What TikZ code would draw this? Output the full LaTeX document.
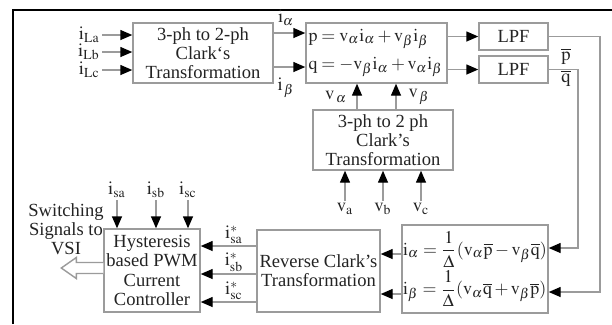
\documentclass[tikz,border=0pt]{standalone}
\usepackage{mathptmx}
\usepackage{fontspec}
\setmainfont{Liberation Serif}
\usepackage{tikz}
\usetikzlibrary{arrows.meta,positioning,calc}
\definecolor{blk_gray}{RGB}{155,155,155}
\definecolor{txt_dark}{RGB}{35,35,35}

\begin{document}
\begin{tikzpicture}[x=0.5bp, y=-0.5bp, font=\fontsize{9.3}{9.6}\selectfont, text=txt_dark,
    blk/.style={draw=blk_gray, line width=0.7bp, align=center, inner sep=0pt},
    sig/.style={draw=blk_gray, line width=0.7bp, -{Triangle[length=6bp,width=5bp,black]}},
    lbl/.style={inner sep=1bp}]
        \useasboundingbox (0,0) rectangle (612,324);
        % outer frame
        \draw[line width=1bp] (13,324) -- (13,10) -- (612,10);

        % blocks
        \node[blk, minimum width=70bp, minimum height=30bp] (clarkA) at (203,53)
          {3-ph to 2-ph\\Clark`s\\Transformation};
        \node[blk, minimum width=70.5bp, minimum height=30bp, align=left, text width=68bp,
              font=\fontsize{9}{9.5}\selectfont] (pq) at (376.5,53)
          {$\mathrm{p = v_\alpha i_\alpha + v_\beta i_\beta}$\\[3.5bp]
           $\mathrm{q = -v_\beta i_\alpha + v_\alpha i_\beta}$};
        \node[blk, minimum width=34.5bp, minimum height=13.5bp] (lpfA) at (513.5,36.5) {LPF};
        \node[blk, minimum width=34.5bp, minimum height=13.5bp] (lpfB) at (513.5,69.5) {LPF};
        \node[blk, minimum width=70bp, minimum height=30bp] (clarkB) at (383,140)
          {3-ph to 2 ph\\Clark's\\Transformation};
        \node[blk, minimum width=73bp, minimum height=44bp, align=left,
              font=\fontsize{9}{9.5}\selectfont] (inv) at (475,269)
          {$\mathrm{i_\alpha = \displaystyle\frac{1}{\Delta}(v_\alpha\overline{p} - v_\beta\overline{q})}$\\[0.5bp]
           $\mathrm{i_\beta = \displaystyle\frac{1}{\Delta}(v_\alpha\overline{q} + v_\beta\overline{p})}$};
        \node[blk, minimum width=61.5bp, minimum height=41bp] (rev) at (318.5,271)
          {Reverse Clark's\\Transformation};
        \node[blk, minimum width=48bp, minimum height=41.5bp] (hyst) at (152,270.5)
          {Hysteresis\\based PWM\\Current\\Controller};
        \node[lbl, align=center] (vsi) at (66,229) {Switching\\Signals to\\VSI};

        % load currents
        \coordinate (iLa) at (102,35);
        \coordinate (iLb) at (102,52);
        \coordinate (iLc) at (102,70);
        \node[lbl, anchor=east] (iLaL) at (iLa) {$\mathrm{i_{La}}$};
        \node[lbl, anchor=east] (iLbL) at (iLb) {$\mathrm{i_{Lb}}$};
        \node[lbl, anchor=east] (iLcL) at (iLc) {$\mathrm{i_{Lc}}$};
        \draw[sig] (iLa) -- (iLa -| clarkA.west);
        \draw[sig] (iLb) -- (iLb -| clarkA.west);
        \draw[sig] (iLc) -- (iLc -| clarkA.west);

        % alpha-beta currents
        \draw[sig] ([yshift=10bp]clarkA.east) -- ([yshift=10bp]clarkA.east -| pq.west);
        \draw[sig] ([yshift=-7bp]clarkA.east) -- ([yshift=-7bp]clarkA.east -| pq.west);
        \node[lbl] (ialL) at (286,18) {$\mathrm{i}_{\alpha}$};
        \node[lbl] (ibeL) at (286,88) {$\mathrm{i}_{\,\beta}$};

        % p and q to filters
        \draw[sig] (pq.east |- lpfA) -- (lpfA);
        \draw[sig] (pq.east |- lpfB) -- (lpfB);

        % filtered p and q back to the current references
        \coordinate (pline) at (600,0);
        \coordinate (qline) at (578,0);
        \draw[sig] (lpfA.east) -- (lpfA.east -| pline) |- ([yshift=-11.5bp]inv.east);
        \draw[sig] (lpfB.east) -- (lpfB.east -| qline) |- ([yshift=10.5bp]inv.east);
        \node[lbl] (pbarL) at (566,56) {$\overline{\mathrm{p}}$};
        \node[lbl] (qbarL) at (566,78) {$\overline{\mathrm{q}}$};

        % alpha-beta voltages
        \draw[sig] ([xshift=-13bp]clarkB.north) -- ([xshift=-13bp]clarkB.north |- pq.south);
        \draw[sig] ([xshift=6.5bp]clarkB.north) -- ([xshift=6.5bp]clarkB.north |- pq.south);
        \node[lbl] (valL) at (336,97) {$\mathrm{v}_{\,\alpha}$};
        \node[lbl] (vbeL) at (419,97) {$\mathrm{v}_{\,\beta}$};

        % source voltages
        \node[lbl, anchor=north] (vaL) at (345,201) {$\mathrm{v_a}$};
        \node[lbl, anchor=north] (vbL) at (383,201) {$\mathrm{v_b}$};
        \node[lbl, anchor=north] (vcL) at (421,201) {$\mathrm{v_c}$};
        \draw[sig] (vaL.north) -- (vaL.north |- clarkB.south);
        \draw[sig] (vbL.north) -- (vbL.north |- clarkB.south);
        \draw[sig] (vcL.north) -- (vcL.north |- clarkB.south);

        % reference currents
        \draw[sig] ([yshift=7.5bp]inv.west) -- ([yshift=7.5bp]inv.west -| rev.east);
        \draw[sig] ([yshift=-12.5bp]inv.west) -- ([yshift=-12.5bp]inv.west -| rev.east);
        \draw[sig] ([yshift=12.5bp]rev.west) -- ([yshift=12.5bp]rev.west -| hyst.east);
        \draw[sig] ([yshift=-1.5bp]rev.west) -- ([yshift=-1.5bp]rev.west -| hyst.east);
        \draw[sig] ([yshift=-15.5bp]rev.west) -- ([yshift=-15.5bp]rev.west -| hyst.east);
        \node[lbl, anchor=south] (isaR) at (234,246) {$\mathrm{i^{*}_{sa}}$};
        \node[lbl, anchor=south] (isbR) at (234,274) {$\mathrm{i^{*}_{sb}}$};
        \node[lbl, anchor=south] (iscR) at (234,302) {$\mathrm{i^{*}_{sc}}$};

        % sensed source currents
        \node[lbl, anchor=south] (isaL) at (117,200) {$\mathrm{i_{sa}}$};
        \node[lbl, anchor=south] (isbL) at (156,200) {$\mathrm{i_{sb}}$};
        \node[lbl, anchor=south] (iscL) at (188,200) {$\mathrm{i_{sc}}$};
        \draw[sig] (isaL.south) -- (isaL.south |- hyst.north);
        \draw[sig] (isbL.south) -- (isbL.south |- hyst.north);
        \draw[sig] (iscL.south) -- (iscL.south |- hyst.north);

        % switching signals (hollow arrow)
        \draw[draw=blk_gray, line width=0.7bp, fill=white, line join=miter]
          ($(hyst.west)+(0,-8)$) -- ++(-27,0) -- ++(0,-5) -- ++(-15,10.5)
          -- ++(15,10.5) -- ++(0,-5) -- ++(27,0);
      \end{tikzpicture}
\end{document}
